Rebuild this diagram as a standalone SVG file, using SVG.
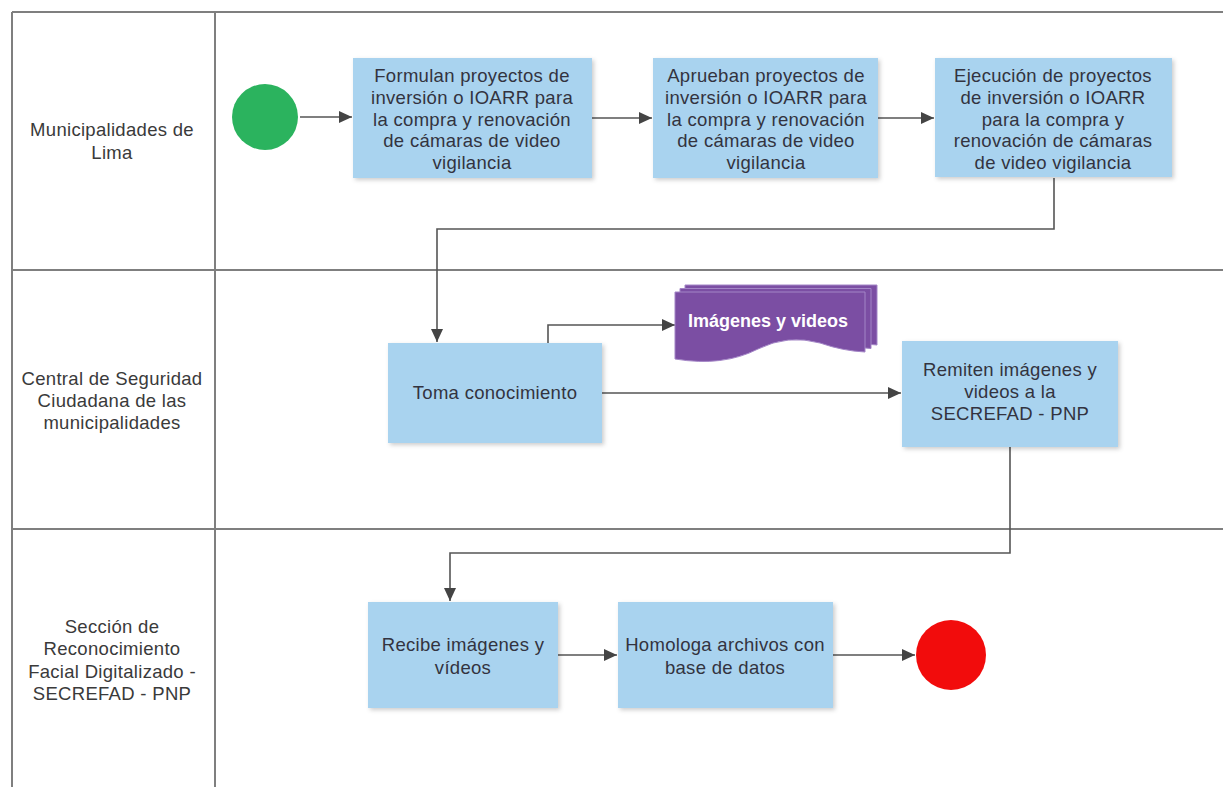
<svg xmlns="http://www.w3.org/2000/svg" width="1223" height="787" viewBox="0 0 1223 787">
<style>
.lane{stroke:#7f7f7f;stroke-width:2;fill:none}
.box{fill:#a9d3ef;filter:url(#sh)}
.t{font-family:"Liberation Sans",Arial,sans-serif;font-size:18.5px;letter-spacing:0.3px;fill:#333340;text-anchor:middle}
.lt{font-family:"Liberation Sans",Arial,sans-serif;font-size:18.5px;letter-spacing:0.3px;fill:#3a3a3a;text-anchor:middle}
.c{stroke:#555;stroke-width:1.6;fill:none;marker-end:url(#ah)}
.doc{fill:#7b4ea3;stroke:#a385c6;stroke-width:1}
</style>
<defs>
<filter id="sh" x="-10%" y="-10%" width="125%" height="130%">
<feDropShadow dx="2" dy="2" stdDeviation="2" flood-color="#000" flood-opacity="0.2"/>
</filter>
<marker id="ah" markerUnits="userSpaceOnUse" markerWidth="14" markerHeight="12" refX="13" refY="6" orient="auto">
<path d="M0,0 L13,6 L0,12 z" fill="#444"/>
</marker>
</defs>
<rect width="1223" height="787" fill="#ffffff"/>
<g id="lanes">
<line class="lane" x1="12" y1="12" x2="1223" y2="12"/>
<line class="lane" x1="12" y1="12" x2="12" y2="787"/>
<line class="lane" x1="215" y1="12" x2="215" y2="787"/>
<line class="lane" x1="12" y1="270" x2="1223" y2="270"/>
<line class="lane" x1="12" y1="529" x2="1223" y2="529"/>
<text class="lt" x="112" y="136">Municipalidades de</text>
<text class="lt" x="112" y="159">Lima</text>
<text class="lt" x="112" y="385">Central de Seguridad</text>
<text class="lt" x="112" y="407">Ciudadana de las</text>
<text class="lt" x="112" y="429">municipalidades</text>
<text class="lt" x="112" y="633">Sección de</text>
<text class="lt" x="112" y="655">Reconocimiento</text>
<text class="lt" x="112" y="678">Facial Digitalizado -</text>
<text class="lt" x="112" y="700">SECREFAD - PNP</text>
</g>
<g id="connectors">
<path class="c" d="M300,117 H352"/>
<path class="c" d="M592,118 H652"/>
<path class="c" d="M878,118 H934"/>
<path class="c" d="M1054,178 V229 H437 V342"/>
<path class="c" d="M548,343 V325 H675"/>
<path class="c" d="M602,393 H901"/>
<path class="c" d="M1010,447 V553 H450 V601"/>
<path class="c" d="M558,655 H617"/>
<path class="c" d="M833,655 H915"/>
</g>
<g id="start">
<circle cx="265" cy="117" r="33" fill="#2bb35e"/>
</g>
<g id="n1">
<rect class="box" x="353" y="58" width="239" height="120"/>
<text class="t" x="472" y="82">Formulan proyectos de</text>
<text class="t" x="472" y="104">inversión o IOARR para</text>
<text class="t" x="472" y="126">la compra y renovación</text>
<text class="t" x="472" y="147">de cámaras de video</text>
<text class="t" x="472" y="169">vigilancia</text>
</g>
<g id="n2">
<rect class="box" x="653" y="58" width="225" height="120"/>
<text class="t" x="766" y="82">Aprueban proyectos de</text>
<text class="t" x="766" y="104">inversión o IOARR para</text>
<text class="t" x="766" y="126">la compra y renovación</text>
<text class="t" x="766" y="147">de cámaras de video</text>
<text class="t" x="766" y="169">vigilancia</text>
</g>
<g id="n3">
<rect class="box" x="935" y="58" width="237" height="119"/>
<text class="t" x="1053" y="82">Ejecución de proyectos</text>
<text class="t" x="1053" y="104">de inversión o IOARR</text>
<text class="t" x="1053" y="126">para la compra y</text>
<text class="t" x="1053" y="147">renovación de cámaras</text>
<text class="t" x="1053" y="169">de video vigilancia</text>
</g>
<g id="n4">
<rect class="box" x="388" y="343" width="214" height="100"/>
<text class="t" x="495" y="399">Toma conocimiento</text>
</g>
<g id="doc">
<path class="doc" d="M685,285 H877 V345 Q855,344 832,336 Q800,327 770,342 Q735,360 685,352 Z"/>
<path class="doc" d="M680,288.5 H871 V348.5 Q849,347.5 826,339.5 Q794,330.5 764,345.5 Q729,363.5 680,355.5 Z"/>
<path class="doc" d="M675,292 H865 V352 Q843,351 820,343 Q788,334 758,349 Q723,367 675,359 Z"/>
<text x="768" y="327" style="font-family:'Liberation Sans',Arial,sans-serif;font-size:18px;font-weight:bold;fill:#ffffff;text-anchor:middle">Imágenes y videos</text>
</g>
<g id="n5">
<rect class="box" x="902" y="341" width="216" height="106"/>
<text class="t" x="1010" y="376">Remiten imágenes y</text>
<text class="t" x="1010" y="398">videos a la</text>
<text class="t" x="1010" y="420">SECREFAD - PNP</text>
</g>
<g id="n6">
<rect class="box" x="368" y="602" width="190" height="106"/>
<text class="t" x="463" y="651">Recibe imágenes y</text>
<text class="t" x="463" y="674">vídeos</text>
</g>
<g id="n7">
<rect class="box" x="618" y="602" width="215" height="106"/>
<text class="t" x="725" y="651">Homologa archivos con</text>
<text class="t" x="725" y="674">base de datos</text>
</g>
<g id="end">
<circle cx="951" cy="655" r="35" fill="#f20c0c"/>
</g>
</svg>
